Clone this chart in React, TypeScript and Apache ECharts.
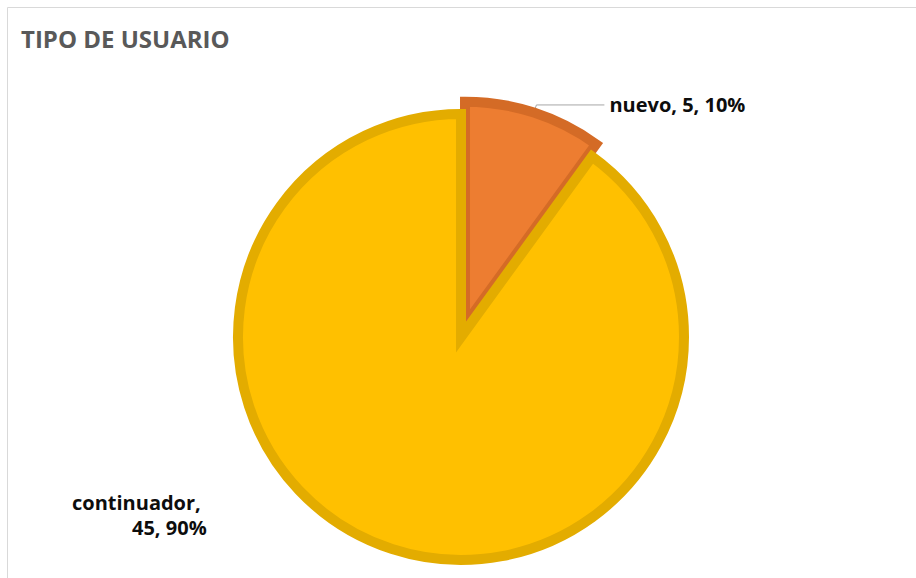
import React, { useEffect, useRef } from "react";
import * as echarts from "echarts";

const titleText = "TIPO DE USUARIO";
const categories = ["nuevo", "continuador"];
const values = [5, 45];
const fillColors = ["#ED7D31", "#FFC000"];
const borderColors = ["#D46B26", "#E3AC00"];

export default function App() {
  const ref = useRef<HTMLDivElement>(null);
  useEffect(() => {
    if (!ref.current) return;
    const chart = echarts.init(ref.current, null, { renderer: "svg" });
    const font = "'Open Sans', 'Liberation Sans', sans-serif";
    const data = categories.map((name, i) => ({
      name,
      value: values[i],
      selected: i === 0,
      itemStyle: { color: fillColors[i], borderColor: borderColors[i] },
      labelLine: { show: i === 0 },
    }));
    chart.setOption({
      animation: false,
      backgroundColor: "#ffffff",
      title: {
        text: titleText,
        left: 16,
        top: 21,
        textStyle: { fontFamily: font, fontWeight: "bold", fontSize: 24, color: "#595959" },
      },
      graphic: [
        {
          type: "rect",
          shape: { x: 7.5, y: 7.5, width: 1000, height: 1000 },
          style: { fill: "none", stroke: "#d9d9d9", lineWidth: 1 },
          silent: true,
        },
      ],
      series: [
        {
          type: "pie",
          center: [461, 337],
          radius: ["0", 223],
          startAngle: 90,
          clockwise: true,
          selectedMode: "single",
          selectedOffset: 13,
          avoidLabelOverlap: false,
          itemStyle: { borderWidth: 10, borderJoin: "miter" },
          emphasis: { disabled: true },
          label: {
            show: true,
            position: "outside",
            fontFamily: font,
            fontWeight: "bold",
            fontSize: 20,
            color: "#0d0d0d",
            distanceToLabelLine: 5,
            formatter: (p: any) =>
              p.dataIndex === 0
                ? `${p.name}, ${p.value}, ${Math.round(p.percent)}%`
                : `{a|${p.name},}\n{b|${p.value}, ${Math.round(p.percent)}%}`,
            rich: {
              a: { fontFamily: font, fontWeight: "bold", fontSize: 20, color: "#0d0d0d", lineHeight: 25 },
              b: { fontFamily: font, fontWeight: "bold", fontSize: 20, color: "#0d0d0d", lineHeight: 25, padding: [0, 0, 0, 60] },
            },
          },
          labelLine: {
            show: true,
            length: 8,
            length2: 68,
            lineStyle: { color: "#A6A6A6", width: 1 },
          },
          labelLayout: (p: any) =>
            p.dataIndex === 1
              ? { x: 72, y: 515, align: "left", verticalAlign: "middle" }
              : undefined,
          data,
        },
      ],
    });
    return () => chart.dispose();
  }, []);
  return (
    <div
      ref={ref}
      style={{ position: "absolute", left: 0, top: 0, width: 916, height: 578 }}
    />
  );
}
